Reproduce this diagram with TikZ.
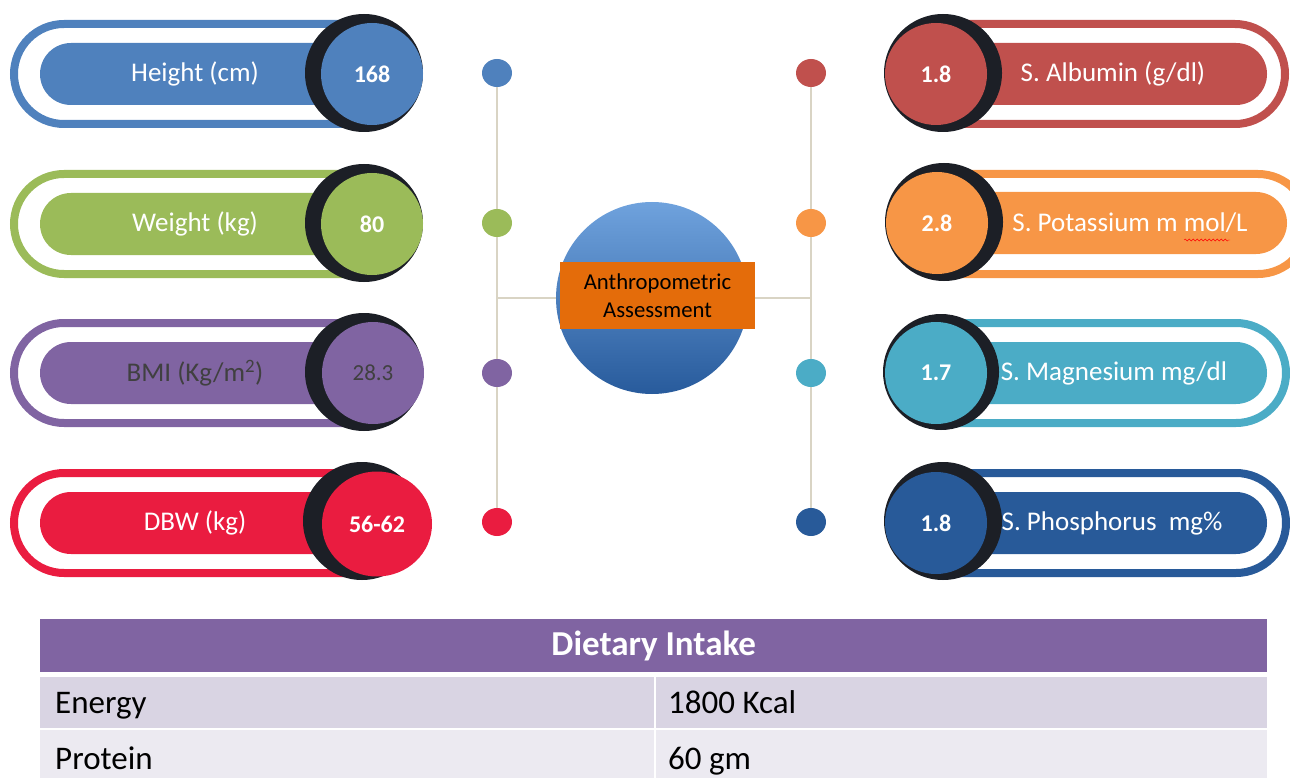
\documentclass[tikz,border=0pt]{standalone}
\usepackage{fontspec}
\setmainfont{Carlito}
\usetikzlibrary{shapes.geometric,decorations.pathmorphing}
\pgfdeclarelayer{bg}
\pgfsetlayers{bg,main}
\definecolor{cH}{HTML}{4F81BD}
\definecolor{cW}{HTML}{9BBB59}
\definecolor{cB}{HTML}{8064A2}
\definecolor{cD}{HTML}{EA1C40}
\definecolor{cA}{HTML}{C0504D}
\definecolor{cP}{HTML}{F79646}
\definecolor{cM}{HTML}{4BACC6}
\definecolor{cF}{HTML}{285A99}
\definecolor{darkc}{HTML}{1C1F26}
\definecolor{linec}{HTML}{D9D4C4}
\definecolor{boxc}{HTML}{E46C0A}
\definecolor{ctop}{HTML}{6FA2DD}
\definecolor{cbot}{HTML}{285B9C}
\definecolor{grayt}{HTML}{404040}
\definecolor{rowa}{HTML}{D9D4E3}
\definecolor{rowb}{HTML}{ECEAF1}
\newcommand\lblfont{\fontsize{27}{32}\selectfont}
\newcommand\numfont{\fontsize{24}{28}\selectfont\bfseries}
\newcommand\ctrfont{\fontsize{22.7}{28}\selectfont}
\newcommand\tabfont{\fontsize{33}{38}\selectfont}
\newcommand\hdrfont{\fontsize{35}{40}\selectfont\bfseries}
\begin{document}
\begin{tikzpicture}[x=1pt,y=-1pt,
  ring/.style={draw=#1, line width=8pt, rounded corners=50pt},
  pill/.style={fill=#1, rounded corners=31pt},
  crescent/.style={fill=darkc},
  numc/.style={circle, fill=#1, minimum size=102pt, inner sep=0pt, text=white, font=\numfont},
  lbl/.style={text=white, font=\lblfont, inner sep=0pt},
  dotn/.style={ellipse, fill=#1, minimum width=30pt, minimum height=28pt, inner sep=0pt},
  conn/.style={draw=linec, line width=2pt},
  celltxt/.style={font=\tabfont, text=black, anchor=base west, inner sep=0pt}]
\useasboundingbox (0,0) rectangle (1290,778);
\clip (0,0) rectangle (1290,778);

% ---------- left rows ----------
% Height
\draw[ring=cH] (14,24) rectangle (400,124);
\fill[pill=cH] (40,43) rectangle (380,105);
\fill[crescent] (364,73) circle[radius=59pt];
\node[numc=cH] (n1) at (372,74) {168};
\node[lbl] (t1) at (195,74) {Height (cm)};
% Weight
\draw[ring=cW] (14,174) rectangle (400,274);
\fill[pill=cW] (40,193) rectangle (380,255);
\fill[crescent] (364,223) circle[radius=59pt];
\node[numc=cW] (n2) at (372,224) {80};
\node[lbl] (t2) at (195,224) {Weight (kg)};
% BMI
\draw[ring=cB] (14,323) rectangle (400,423);
\fill[pill=cB] (40,342) rectangle (380,404);
\fill[crescent] (364,372) circle[radius=59pt];
\node[numc=cB, text=grayt, font=\fontsize{23}{27}\selectfont] (n3) at (373,373) {28.3};
\node[lbl, text=grayt] (t3) at (195,373) {BMI (Kg/m\textsuperscript{2})};
% DBW
\draw[ring=cD] (14,473) rectangle (400,573);
\fill[pill=cD] (40,492) rectangle (380,554);
\fill[crescent] (362,521) circle[radius=59pt];
\node[numc=cD, ellipse, minimum width=110pt, minimum height=105pt] (n4) at (377,524) {56-62};
\node[lbl] (t4) at (195,523) {DBW (kg)};

% ---------- right rows ----------
% Albumin
\draw[ring=cA] (900,24) rectangle (1285,124);
\fill[pill=cA] (920,43) rectangle (1267,105);
\fill[crescent] (943,73) circle[radius=59pt];
\node[numc=cA] (n5) at (936,74) {1.8};
\node[lbl] (t5) at (1113,74) {S. Albumin (g/dl)};
% Potassium
\draw[ring=cP] (900,174) rectangle (1308,274);
\fill[pill=cP] (920,192) rectangle (1287,254);
\fill[crescent] (944,222) circle[radius=59pt];
\node[numc=cP] (n6) at (937,223) {2.8};
\node[lbl] (t6) at (1130,223) {S. Potassium m mol/L};
\draw[red, decorate, decoration={snake, amplitude=1pt, segment length=4pt}] (1184,240) -- (1230,240);
% Magnesium
\draw[ring=cM] (900,323) rectangle (1286,423);
\fill[pill=cM] (920,342) rectangle (1267,404);
\fill[crescent] (941,372) circle[radius=58pt];
\node[numc=cM] (n7) at (936,373) {1.7};
\node[lbl] (t7) at (1114,373) {S. Magnesium mg/dl};
% Phosphorus
\draw[ring=cF] (900,473) rectangle (1286,573);
\fill[pill=cF] (920,492) rectangle (1267,554);
\fill[crescent] (943,521) circle[radius=59pt];
\node[numc=cF] (n8) at (936,523) {1.8};
\node[lbl] (t8) at (1112,523) {S. Phosphorus\ \ mg\%};

% ---------- centre ----------
\node[dotn=cH] (dl1) at (497,73) {};
\node[dotn=cW] (dl2) at (497,223) {};
\node[dotn=cB] (dl3) at (497,373) {};
\node[dotn=cD] (dl4) at (497,522) {};
\node[dotn=cA] (dr1) at (811,73) {};
\node[dotn=cP] (dr2) at (811,223) {};
\node[dotn=cM] (dr3) at (811,373) {};
\node[dotn=cF] (dr4) at (811,522) {};
\coordinate (jl) at (497,298);
\coordinate (jr) at (811,298);
\node[circle, minimum size=192pt, inner sep=0pt, top color=ctop, bottom color=cbot] (cc) at (652,298) {};
\node[fill=boxc, minimum width=195pt, minimum height=67pt, inner sep=0pt,
      align=center, font=\ctrfont, text=black] (box) at (657.5,295.5) {Anthropometric\\Assessment};
\begin{pgfonlayer}{bg}
\draw[conn] (dl1.center) -- (dl4.center);
\draw[conn] (dr1.center) -- (dr4.center);
\draw[conn] (jl) -- (cc.center);
\draw[conn] (cc.center) -- (jr);
\end{pgfonlayer}

% ---------- table ----------
\node[fill=cB, minimum width=1227pt, minimum height=53pt, inner sep=0pt, anchor=north west,
      text=white, font=\hdrfont] (th) at (40,619) {Dietary Intake};
\fill[rowa] (40,677) rectangle (1267,728);
\fill[rowb] (40,730) rectangle (1267,778);
\draw[white, line width=2pt] (655,677) -- (655,778);
\node[celltxt] (e1) at (55,713) {Energy};
\node[celltxt] (e2) at (668,713) {1800 Kcal};
\node[celltxt] (p1) at (55,769) {Protein};
\node[celltxt] (p2) at (668,769) {60 gm};
\end{tikzpicture}
\end{document}
